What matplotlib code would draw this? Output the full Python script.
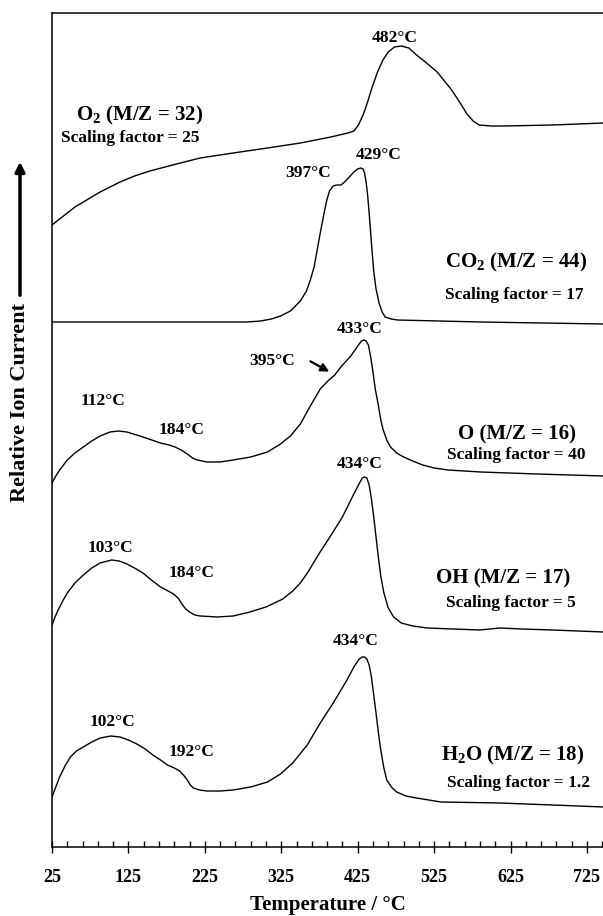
import numpy as np
import matplotlib
matplotlib.use("Agg")
import matplotlib.pyplot as plt

plt.rcParams['font.family'] = ['Liberation Serif', 'DejaVu Serif']
plt.rcParams['font.weight'] = 'bold'
plt.rcParams['mathtext.fontset'] = 'custom'
plt.rcParams['mathtext.rm'] = 'Liberation Serif:bold'
plt.rcParams['mathtext.default'] = 'rm'

# TPD signals (temperature in degC, stacked relative ion current)
t_o2 = [25, 35, 45, 55, 66, 88, 114, 133, 153, 173, 193, 219, 262, 307, 350, 390, 412, 420,
        426, 432, 438, 444, 451, 458, 465, 473, 482, 492, 502, 512, 529, 548, 560, 568, 576,
        584, 600, 615, 680, 747]
i_o2 = [622, 628, 634, 640, 645, 655, 665, 671, 676, 680, 684, 689, 694, 699, 704, 710, 714, 716,
        722, 732, 745, 760, 775, 787, 795, 800, 801, 799, 792, 786, 775, 757, 743, 733, 726,
        722, 721, 721, 722, 724]

t_co2 = [25, 100, 200, 280, 298, 312, 324, 337, 350, 358, 363, 368, 372, 376, 380, 384, 388,
         393, 397, 403, 408, 414, 420, 425, 429, 432, 434, 436, 438, 440, 442, 444, 446, 449,
         453, 457, 461, 469, 477, 586, 747]
i_co2 = [525, 525, 525, 525, 526, 528, 531, 536, 546, 556, 567, 580, 597, 614, 630, 645, 656,
         661, 662, 662, 665, 670, 675, 678, 679, 678, 674, 665, 652, 634, 614, 594, 576, 558,
         544, 535, 530, 528, 527, 525, 523]

t_o = [25, 30, 35, 45, 55, 66, 77, 88, 101, 112, 123, 144, 167, 178, 186, 194, 202, 209, 215,
       228, 245, 262, 285, 307, 324, 337, 350, 363, 376, 386, 395, 404, 416, 426, 430, 433,
       436, 439, 442, 445, 448, 452, 455, 458, 463, 468, 476, 485, 497, 510, 525, 543, 586,
       660, 747]
i_o = [364, 371, 377, 387, 394, 400, 406, 411, 415, 416, 415, 410, 404, 402, 400, 397, 393, 389,
       387, 385, 385, 387, 390, 395, 403, 411, 423, 441, 458, 466, 472, 481, 491, 502, 506, 507,
       506, 502, 490, 475, 458, 442, 428, 418, 407, 400, 394, 390, 386, 382, 379, 377, 375,
       373, 371]

t_oh = [25, 29, 33, 39, 45, 55, 66, 77, 88, 103, 113, 123, 133, 144, 155, 167, 177, 184, 190,
        195, 200, 205, 212, 219, 241, 262, 284, 305, 327, 340, 350, 360, 375, 392, 405, 418,
        426, 431, 434, 437, 440, 443, 446, 449, 452, 455, 459, 465, 472, 482, 497, 516, 585,
        611, 640, 680, 747]
i_oh = [222, 230, 237, 246, 254, 264, 272, 279, 284, 287, 286, 283, 279, 274, 267, 260, 256, 253,
        249, 243, 238, 235, 232, 231, 230, 231, 235, 240, 248, 256, 264, 275, 294, 314, 330,
        350, 362, 369, 370, 369, 362, 348, 330, 310, 290, 272, 255, 239, 230, 224, 221, 219,
        217, 219, 218, 217, 215]

t_h2o = [25, 30, 35, 42, 49, 57, 66, 77, 88, 102, 114, 125, 136, 147, 157, 167, 176, 185, 192,
         197, 202, 206, 210, 218, 228, 245, 262, 285, 307, 324, 340, 359, 376, 393, 411, 420,
         427, 431, 434, 437, 440, 443, 446, 449, 452, 455, 459, 463, 469, 476, 488, 502, 534,
         611, 680, 747]
i_h2o = [50, 60, 70, 81, 90, 96, 100, 105, 109, 111, 110, 107, 103, 98, 92, 87, 82, 79, 76,
         72, 67, 62, 59, 57, 56, 56, 57, 60, 65, 73, 84, 102, 124, 144, 167, 180,
         188, 190, 190, 188, 182, 170, 152, 134, 115, 98, 80, 67, 60, 55, 51, 49, 45,
         44, 42, 40]

species = ['O$_2$ (M/Z = 32)', 'CO$_2$ (M/Z = 44)', 'O (M/Z = 16)',
           'OH (M/Z = 17)', 'H$_2$O (M/Z = 18)']
factors = ['25', '17', '40', '5', '1.2']

fig = plt.figure(figsize=(6.03, 9.16), dpi=100)
ax = fig.add_axes([52 / 603, 69 / 916, 551 / 603, 834 / 916])

for t, i in [(t_o2, i_o2), (t_co2, i_co2), (t_o, i_o), (t_oh, i_oh), (t_h2o, i_h2o)]:
    ax.plot(t, i, color='black', lw=1.0)

# species name and scaling factor for each trace
name_xy = [(140, 732), (632, 585), (634, 413), (615, 269), (628, 92)]
fac_xy = [(128, 709), (630, 552), (632, 392), (626, 244), (635, 64)]
for s, f, (nx, ny), (fx, fy) in zip(species, factors, name_xy, fac_xy):
    ax.text(nx, ny, s, ha='center', va='center', fontsize=15, fontweight='bold')
    ax.text(fx, fy, 'Scaling factor = ' + f, ha='center', va='center', fontsize=12.5,
            fontweight='bold')

# peak temperatures
peaks = [(482, 473, 809), (397, 360, 674), (429, 452, 692), (433, 427, 518), (395, 313, 486),
         (112, 92, 446), (184, 194, 417), (434, 428, 383), (103, 101, 299), (184, 207, 274),
         (434, 422, 206), (102, 104, 125), (192, 207, 95)]
for val, x, y in peaks:
    ax.text(x, y, '%d°C' % val, ha='center', va='center', fontsize=12.5, fontweight='bold')

ax.annotate('', xy=(391, 474), xytext=(360, 487),
            arrowprops=dict(arrowstyle='-|>', color='black', lw=1.6, mutation_scale=12))

ax.set_xlim(25, 746)
ax.set_ylim(0, 834)
ax.set_xticks(np.arange(25, 726, 100))
ax.set_xticks(np.arange(25, 746, 20), minor=True)
ax.set_yticks([])
ax.tick_params(axis='x', which='major', direction='inout', length=8, width=1.0,
               labelsize=13, pad=12)
ax.tick_params(axis='x', which='minor', direction='in', length=4, width=1.0)
for lab in ax.get_xticklabels():
    lab.set_fontweight('bold')
ax.spines['right'].set_visible(False)
for sp in ['left', 'bottom', 'top']:
    ax.spines[sp].set_linewidth(1.1)

ax.set_xlabel('Temperature / °C', fontsize=15, fontweight='bold', labelpad=6)

fig.text(20 / 603, 1 - 403 / 916, 'Relative Ion Current', rotation=90, ha='center',
         va='center', fontsize=16, fontweight='bold')
fig.add_artist(matplotlib.patches.FancyArrowPatch(
    (20 / 603, 1 - 298 / 916), (20 / 603, 1 - 159 / 916), transform=fig.transFigure,
    arrowstyle='-|>', mutation_scale=14, lw=2.5, color='black'))

fig.savefig('out.png', dpi=100)
